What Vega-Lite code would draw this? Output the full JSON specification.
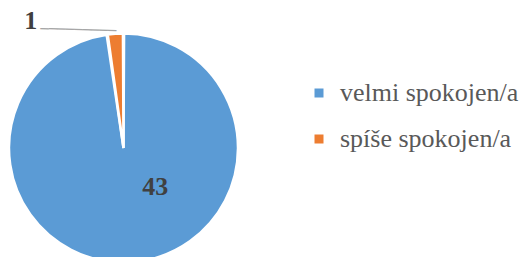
{
  "$schema": "https://vega.github.io/schema/vega-lite/v6.json",
  "width": 247,
  "height": 296,
  "padding": 0,
  "autosize": {"type": "pad"},
  "background": "white",
  "config": {"font": "Liberation Serif", "legend": {"labelFont": "Liberation Serif"}},
  "data": {"values": [
    {"label": "velmi spokojen/a", "value": 43, "order": 1},
    {"label": "spíše spokojen/a", "value": 1, "order": 2}
  ]},
  "encoding": {
    "theta": {"field": "value", "type": "quantitative", "stack": true},
    "order": {"field": "order", "type": "quantitative"}
  },
  "layer": [
    {
      "mark": {"type": "arc", "outerRadius": 114.5, "stroke": "white", "strokeWidth": 2.5, "padAngle": 0.01},
      "encoding": {
        "color": {
          "field": "label", "type": "nominal",
          "scale": {"domain": ["velmi spokojen/a", "spíše spokojen/a"], "range": ["#5b9bd5", "#ed7d31"]},
          "legend": {
            "orient": "none", "legendX": 306, "legendY": 80, "title": null,
            "symbolType": "square", "symbolSize": 81, "symbolStrokeWidth": 0,
            "labelFont": "Liberation Serif", "labelFontSize": 26, "labelColor": "#595959",
            "labelOffset": 8, "rowPadding": 20, "padding": 0, "labelLimit": 300
          }
        }
      }
    },
    {
      "transform": [{"filter": "datum.order == 1"}],
      "mark": {"type": "text", "radius": 40, "dx": 29, "dy": -1, "font": "Liberation Serif", "fontSize": 26, "fontWeight": "bold", "fill": "#404040", "align": "center", "baseline": "middle"},
      "encoding": {"text": {"field": "value", "type": "quantitative"}}
    },
    {
      "transform": [{"filter": "datum.order == 2"}],
      "mark": {"type": "text", "radius": 115, "dx": -101, "dy": -12, "font": "Liberation Serif", "fontSize": 26, "fontWeight": "bold", "fill": "#404040", "align": "center", "baseline": "middle"},
      "encoding": {"text": {"field": "value", "type": "quantitative"}}
    },
    {
      "transform": [{"filter": "datum.order == 2"}],
      "mark": {"type": "text", "radius": 115, "dx": -53.5, "dy": -1.5, "font": "DejaVu Sans Mono", "fontSize": 14, "fill": "#a6a6a6", "align": "center", "baseline": "middle", "angle": 1.5, "text": "─────────"},
      "encoding": {}
    }
  ]
}
